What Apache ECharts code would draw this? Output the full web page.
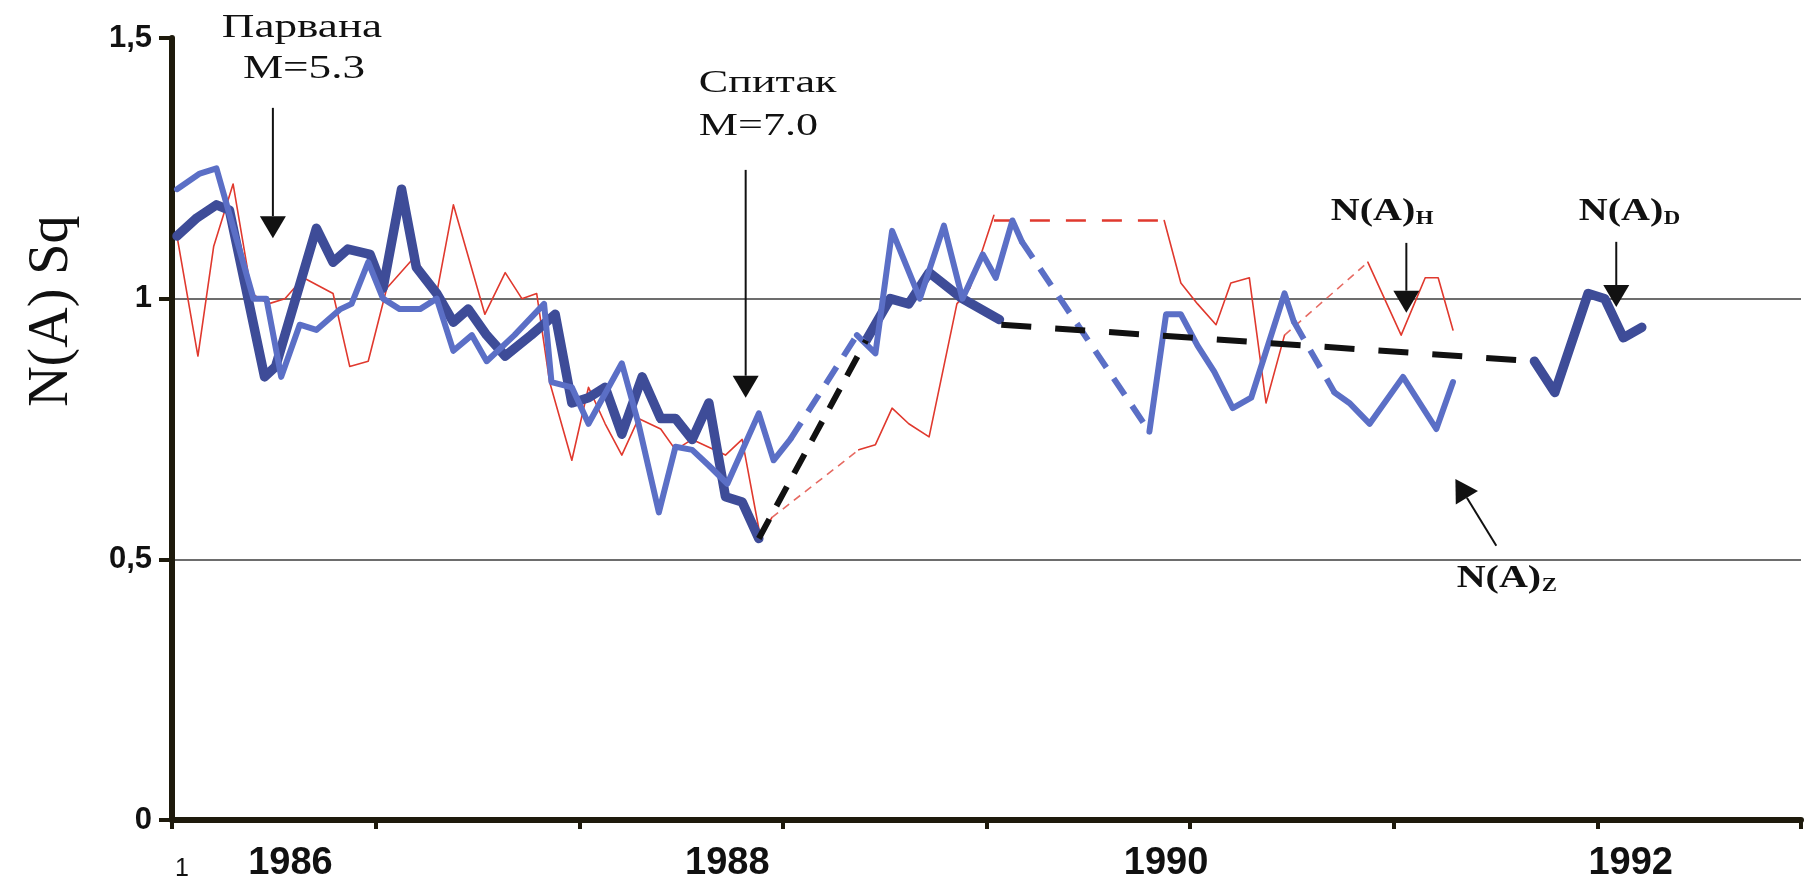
<!DOCTYPE html>
<html>
<head>
<meta charset="utf-8">
<script src="https://cdn.jsdelivr.net/npm/echarts@6/dist/echarts.min.js"></script>
<style>
    html, body { margin: 0; padding: 0; background: #fff; }
    #chart { width: 1806px; height: 886px; }
</style>
</head>
<body>
<div id="chart"></div>
<script>
    // x = months from the axis start, y = N(A) Sq
    const xTicks = [0, 11, 22, 33, 44, 55, 66, 77, 88];
    const xLabelPos = [0.54, 6.4, 30.0, 53.7, 78.8];
    const xLabelText = ['1', '1986', '1988', '1990', '1992'];
    const yTicks = [0, 0.5, 1, 1.5];

    // N(A)H - thin red
    const redSeg1 = [[0.27,1.12],[1.4,0.89],[2.25,1.10],[3.3,1.22],[4.3,1.01],[5.2,0.99],[6.1,1.0],[7.1,1.04],
        [8.7,1.01],[9.6,0.87],[10.6,0.88],[11.6,1.02],[13.1,1.08],[14.3,1.01],[15.2,1.18],[16.9,0.97],[18.0,1.05],
        [18.9,1.0],[19.7,1.01],[20.4,0.84],[21.6,0.69],[22.5,0.83],[23.4,0.76],[24.3,0.70],[25.2,0.77],[26.4,0.75],
        [27.2,0.71],[28.1,0.73],[29.9,0.70],[30.8,0.73],[31.8,0.54],[32.4,0.58]];
    const redGap1 = [[32.4,0.58],[37.1,0.71]];
    const redSeg2 = [[37.1,0.71],[38.0,0.72],[38.9,0.79],[39.8,0.76],[40.9,0.735],[42.4,0.99],[43.1,1.02],[44.4,1.16]];
    const redGap2 = [[44.4,1.15],[53.6,1.15]];
    const redSeg3 = [[53.6,1.15],[54.5,1.03],[55.4,0.99],[56.4,0.95],[57.2,1.03],[58.2,1.04],[59.1,0.80],[60.1,0.93]];
    const redGap3 = [[60.1,0.93],[64.6,1.07]];
    const redSeg4 = [[64.6,1.07],[66.4,0.93],[67.7,1.04],[68.4,1.04],[69.2,0.94]];

    // N(A)D - thick dark blue, black dashes across the gaps
    const dSeg1 = [[0.27,1.12],[1.35,1.155],[2.4,1.18],[3.1,1.17],[5.0,0.85],[5.6,0.87],[7.8,1.135],[8.7,1.07],
        [9.5,1.095],[10.7,1.085],[11.4,1.02],[12.4,1.21],[13.2,1.06],[14.3,1.01],[15.2,0.955],[16.0,0.98],[17.0,0.93],
        [18.0,0.89],[19.4,0.93],[20.7,0.97],[21.6,0.80],[22.5,0.81],[23.4,0.83],[24.3,0.74],[25.4,0.85],[26.4,0.77],
        [27.2,0.77],[28.1,0.73],[29.0,0.80],[29.9,0.62],[30.8,0.61],[31.7,0.54]];
    const dGap1 = [[31.7,0.54],[37.5,0.92]];
    const dSeg2 = [[37.5,0.92],[38.8,1.0],[39.8,0.99],[40.9,1.05],[42.7,1.0],[44.7,0.96]];
    const dGap2 = [[44.8,0.95],[73.6,0.88]];
    const dSeg3 = [[73.6,0.88],[74.7,0.82],[76.5,1.01],[77.4,1.0],[78.4,0.925],[79.4,0.945]];

    // N(A)Z - medium blue
    const zSeg1 = [[0.27,1.21],[1.5,1.24],[2.4,1.25],[4.4,1.0],[5.1,1.0],[5.9,0.85],[6.9,0.95],[7.8,0.94],
        [9.1,0.98],[9.7,0.99],[10.6,1.07],[11.4,1.0],[12.3,0.98],[13.4,0.98],[14.3,1.0],[15.2,0.9],[16.2,0.93],
        [17.0,0.88],[18.5,0.93],[20.1,0.99],[20.5,0.84],[21.6,0.83],[22.5,0.76],[24.3,0.876],[25.2,0.76],[26.3,0.59],
        [27.2,0.716],[28.1,0.71],[29.0,0.68],[30.0,0.645],[31.7,0.78],[32.5,0.69],[33.4,0.73]];
    const zGap1 = [[33.4,0.73],[37.0,0.93]];
    const zSeg2 = [[37.0,0.93],[38.0,0.895],[38.9,1.13],[40.4,1.0],[41.7,1.14],[42.7,1.0],[43.8,1.085],[44.5,1.04],
        [45.4,1.15],[45.9,1.11]];
    const zGap2 = [[45.9,1.11],[52.8,0.745]];
    const zSeg3 = [[52.8,0.745],[53.7,0.97],[54.5,0.97],[55.4,0.91],[56.3,0.86],[57.3,0.79],[58.3,0.81],[60.1,1.01],[60.6,0.956]];
    const zGap3 = [[60.6,0.956],[62.8,0.82]];
    const zSeg4 = [[62.8,0.82],[63.6,0.80],[64.7,0.76],[66.5,0.85],[68.3,0.75],[69.2,0.84]];

    const RED = '#e0392e', DARK = '#3e4c98', MID = '#5b6fc6', AXIS = '#1e1a0c';
    const SERIF = '"Liberation Serif", "Times New Roman", serif';
    const SANS = '"Liberation Sans", Arial, sans-serif';

    function line(data, color, width, type, z) {
        return {
            type: 'line', data: data, symbol: 'none', silent: true, z: z,
            lineStyle: { color: color, width: width, type: type || 'solid',
                cap: type ? 'butt' : 'round', join: 'round' }
        };
    }

    const chart = echarts.init(document.getElementById('chart'));
    chart.setOption({
        animation: false,
        backgroundColor: '#fff',
        grid: { left: 172, right: 5, top: 38, bottom: 66, containLabel: false },
        xAxis: {
            type: 'value', min: 0, max: 88,
            axisLine: { lineStyle: { color: AXIS, width: 6 } },
            axisTick: { show: true, customValues: xTicks, length: 9, lineStyle: { color: AXIS, width: 4 } },
            axisLabel: {
                customValues: xLabelPos, margin: 44, verticalAlign: 'middle',
                formatter: function (v) {
                    const i = xLabelPos.indexOf(v);
                    if (i < 0) return '';
                    return i === 0 ? '{n|' + xLabelText[i] + '}' : '{y|' + xLabelText[i] + '}';
                },
                rich: {
                    n: { fontFamily: SANS, fontSize: 25, color: '#111', padding: [10, 0, 0, 0] },
                    y: { fontFamily: SANS, fontSize: 38, fontWeight: 'bold', color: '#111' }
                }
            },
            splitLine: { show: false }
        },
        yAxis: {
            type: 'value', min: 0, max: 1.5, interval: 0.5,
            axisLine: { show: true, lineStyle: { color: AXIS, width: 6 } },
            axisTick: { show: true, customValues: yTicks, length: 13, lineStyle: { color: AXIS, width: 4 } },
            axisLabel: {
                margin: 20, fontFamily: SANS, fontSize: 31, fontWeight: 'bold', color: '#111',
                formatter: function (v) { return String(v).replace('.', ','); }
            },
            splitLine: { show: true, showMinLine: false, showMaxLine: false, lineStyle: { color: '#3c3c3c', width: 1.6 } }
        },
        series: [
            line(redSeg1, RED, 1.6, null, 2),
            line(redSeg2, RED, 1.6, null, 2),
            line(redSeg3, RED, 1.6, null, 2),
            line(redSeg4, RED, 1.6, null, 2),
            line(redGap1, '#e66a62', 1.6, [8, 6], 2),
            line(redGap2, RED, 2.6, [20, 16], 2),
            line(redGap3, '#e66a62', 1.6, [8, 6], 2),
            line(dSeg1, DARK, 9.5, null, 3),
            line(dSeg2, DARK, 9.5, null, 3),
            line(dSeg3, DARK, 9.5, null, 3),
            line(zSeg1, MID, 6, null, 4),
            line(zSeg2, MID, 6, null, 4),
            line(zSeg3, MID, 6, null, 4),
            line(zSeg4, MID, 6, null, 4),
            line(zGap1, MID, 6, [20, 13], 4),
            line(zGap2, MID, 6, [20, 13], 4),
            line(zGap3, MID, 6, [20, 13], 4),
            line(dGap1, '#111', 6, [22, 15], 5),
            line(dGap2, '#111', 6, [30, 24], 5)
        ]
    });

    // annotations, anchored in data coordinates
    function px(m, v) { return chart.convertToPixel({ gridIndex: 0 }, [m, v]); }

    function label(text, m, v, opt) {
        const p = px(m, v);
        return {
            type: 'text', x: p[0], y: p[1], scaleX: opt.sx || 1, rotation: opt.rot || 0, z: 10, silent: true,
            style: {
                text: text, fill: '#111', fontFamily: SERIF, fontSize: opt.size,
                fontWeight: opt.bold ? 'bold' : 'normal', align: opt.align || 'left', verticalAlign: 'middle'
            }
        };
    }

    function arrow(m1, v1, m2, v2) {
        const a = px(m1, v1), b = px(m2, v2);
        const dx = b[0] - a[0], dy = b[1] - a[1], len = Math.sqrt(dx * dx + dy * dy);
        const ux = dx / len, uy = dy / len, head = 22, half = 13;
        const bx = b[0] - ux * head, by = b[1] - uy * head;
        return [
            { type: 'line', z: 10, silent: true, shape: { x1: a[0], y1: a[1], x2: bx, y2: by },
              style: { stroke: '#111', lineWidth: 2 } },
            { type: 'polygon', z: 10, silent: true,
              shape: { points: [[b[0], b[1]], [bx - uy * half, by + ux * half], [bx + uy * half, by - ux * half]] },
              style: { fill: '#111' } }
        ];
    }

    function subscriptName(letter, m, v) {
        const p = px(m, v);
        return [
            label('N(A)', m, v, { size: 32, bold: true, sx: 1.25 }),
            { type: 'text', x: p[0] + 85, y: p[1] + 7, scaleX: 1.2, z: 10, silent: true,
              style: { text: letter, fill: '#111', fontFamily: SERIF, fontSize: 19, fontWeight: 'bold', verticalAlign: 'middle' } }
        ];
    }

    const elements = [].concat(
        label('N(A) Sq', -6.48, 0.976, { size: 56, align: 'center', rot: Math.PI / 2 }),
        label('Парвана', 7.02, 1.519, { size: 33, sx: 1.37, align: 'center' }),
        label('M=5.3', 7.13, 1.439, { size: 33, sx: 1.37, align: 'center' }),
        arrow(5.45, 1.366, 5.45, 1.116),
        label('Спитак', 28.46, 1.412, { size: 32, sx: 1.38 }),
        label('M=7.0', 28.46, 1.331, { size: 32, sx: 1.38 }),
        arrow(30.99, 1.247, 30.99, 0.81),
        subscriptName('H', 62.6, 1.166),
        arrow(66.68, 1.107, 66.68, 0.973),
        subscriptName('D', 76.0, 1.166),
        arrow(78.02, 1.109, 78.02, 0.984),
        subscriptName('Z', 69.4, 0.463),
        arrow(71.54, 0.526, 69.33, 0.654)
    );
    chart.setOption({ graphic: { elements: elements } });
</script>
</body>
</html>
